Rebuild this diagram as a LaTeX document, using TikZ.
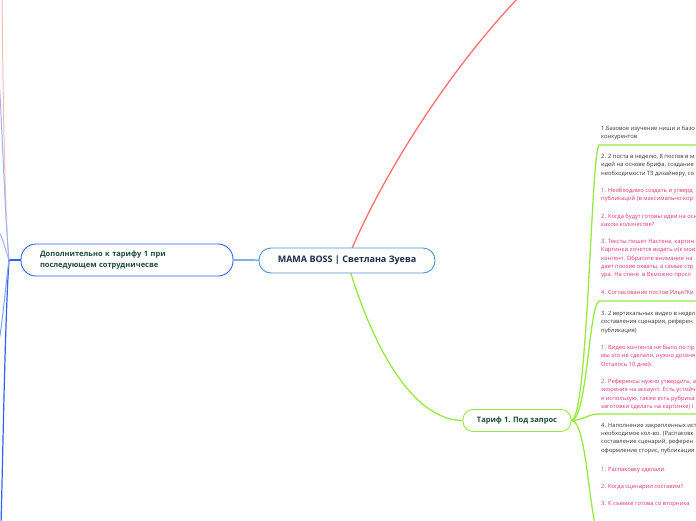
\documentclass[tikz,border=0pt]{standalone}
\usepackage{fontspec}
\setmainfont{Open Sans}
\usetikzlibrary{backgrounds}
\definecolor{rootline}{HTML}{4A90D9}
\definecolor{leftline}{HTML}{2D62F2}
\definecolor{lightblue}{HTML}{9DB5F5}
\definecolor{lightpink}{HTML}{FFB8B8}
\definecolor{redline}{HTML}{FF6F6F}
\definecolor{lime}{HTML}{9AE83F}
\definecolor{navytext}{HTML}{1B2B4B}
\definecolor{greentext}{HTML}{1D4A3C}
\definecolor{txtgray}{HTML}{333333}
\definecolor{notepink}{HTML}{E8306A}
\tikzset{
  topicbox/.style={draw, fill=white, line width=0.9pt, inner sep=0pt},
  txt/.style={anchor=north west, inner sep=0pt, align=left,
    font=\fontsize{5.8}{8.3}\selectfont, text=txtgray},
  note/.style={txt, text=notepink},
  gline/.style={draw=lime, line width=1.3pt},
}
\begin{document}
\begin{tikzpicture}[x=1pt,y=-1pt]
\useasboundingbox (0,0) rectangle (696,520);

% main topics
\node[topicbox, draw=rootline, rounded corners=12pt, minimum width=176pt, minimum height=25pt,
  font=\fontsize{9}{11}\selectfont\bfseries, text=navytext] (root) at (347,260.5) {MAMA BOSS | Светлана Зуева};
\node[topicbox, draw=leftline, rounded corners=15pt, minimum height=32pt, text width=174pt,
  inner xsep=19pt, align=left, font=\fontsize{7.5}{11}\selectfont\bfseries, text=greentext] (left) at (127,260)
  {Дополнительно к тарифу 1 при\\последующем сотрудничесве};
\node[topicbox, draw=lime, rounded corners=10pt, minimum width=108pt, minimum height=22pt,
  font=\fontsize{7.5}{9}\selectfont\bfseries, text=greentext] (tarif) at (517,420.5) {Тариф 1. Под запрос};

% children text
\node[txt] (c1) at (601,126) {1.Базовое изучение ниши и базо\\конкурентов};
\node[txt] (c2) at (601,154) {2. 2 поста в неделю, 8 постов в м\\идей на основе брифа, создание\\необходимости ТЗ дизайнеру, со};
\node[note] (c2a) at (601,188) {1. Необходимо создать и утверд\\публикаций (в максимально кор};
\node[note] (c2b) at (601,214) {2. Когда будут готовы идеи на осн\\каком количестве?};
\node[note] (c2c) at (601,239) {3. Тексты пишет Настена, картин\\Картинки хочется видеть и(к мои\\контент. Обратите внимание на\\дает плохие охваты, а самые стр\\ура. На стене~ в Вкможно просл};
\node[note] (c2d) at (601,290) {4. Согласование постов Илья?Ки};
\node[txt] (c3) at (601,311) {3. 2 вертикальных видео в недел\\составления сценария, референ\\публикация)};
\node[note] (c3a) at (601,345) {1. Видео контента не было по пр\\мы это не сделали, нужно догоня\\Осталось 10 дней.};
\node[note] (c3b) at (601,379) {2. Референсы нужно утвердить, а\\экорения на аккаунт. Есть устойч\\я использую, также есть рубрика\\заготовки сделать на картинке) I};
\node[txt] (c4) at (601,423) {4. Наполнение закрепленных ист\\необходимое кол-во. (Распаковк\\составление сценарий, референ\\оформление сторис, публикация};
\node[note] (c4a) at (601,467) {1. Распаковку сделали.};
\node[note] (c4b) at (601,484) {2. Когда сценарии составим?};
\node[note] (c4c) at (601,501) {3. К съемке готова со вторника};

% free ends
\coordinate (br) at (9,260);
\coordinate (redend) at (519,-3);
\coordinate (u1) at (599,145); \coordinate (u1e) at (700,145);
\coordinate (u2) at (599,301); \coordinate (u2e) at (700,301);
\coordinate (u3) at (599,414); \coordinate (u3e) at (700,414);
\coordinate (u4) at (599,536);
\coordinate (lp) at (2,-5);
\coordinate (lb1) at (-2,60);
\coordinate (lb2) at (-2,230);
\coordinate (lb3) at (1,525);
\coordinate (lb4) at (-2,345);

\begin{pgfonlayer}{background}
  \draw[redline, line width=1.3pt] (root.center) .. controls (375,190) and (440,80) .. (redend);
  \draw[gline] (root.center) .. controls (370,340) and (410,420) .. (tarif.west);
  \draw[rootline!70!leftline, line width=1.2pt] (root.center) -- (left.east);
  \draw[leftline, line width=1.4pt] (left.west) -- (br);
  \draw[lightpink, line width=1pt] (br) .. controls (4,200) and (3,80) .. (lp);
  \draw[lightblue, line width=1pt] (br) .. controls (5,220) and (2,120) .. (lb1);
  \draw[lightblue, line width=1pt] (br) .. controls (4,245) and (2,236) .. (lb2);
  \draw[leftline, line width=1.2pt] (br) .. controls (5,320) and (3,450) .. (lb3);
  \draw[leftline!60, line width=1pt] (br) .. controls (5,290) and (2,330) .. (lb4);
  \draw[gline] (tarif.east) .. controls (588,420) and (591,152) .. (u1) -- (u1e);
  \draw[gline] (tarif.east) .. controls (587,420) and (589,306) .. (u2) -- (u2e);
  \draw[gline] (tarif.east) .. controls (584,420) and (588,414) .. (u3) -- (u3e);
  \draw[gline] (tarif.east) .. controls (587,420) and (589,520) .. (u4);
\end{pgfonlayer}
\end{tikzpicture}
\end{document}
